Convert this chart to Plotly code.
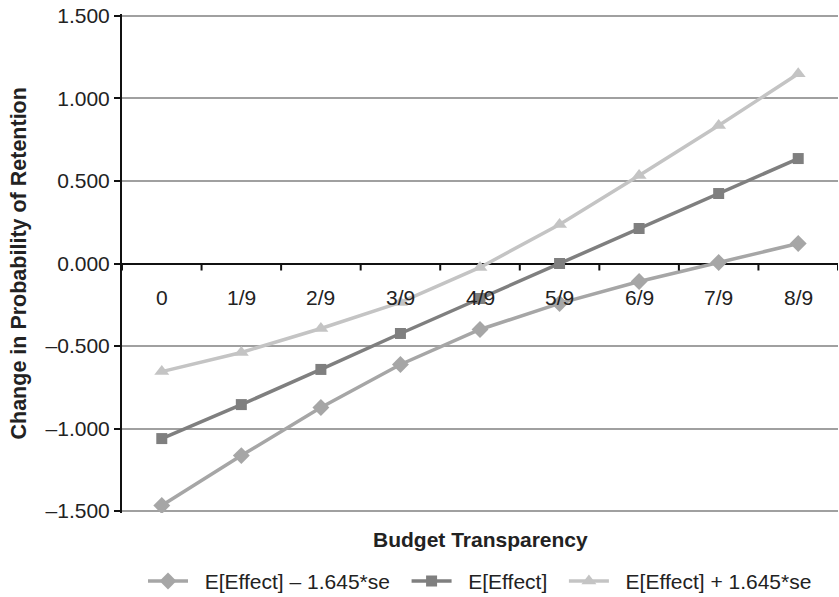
import plotly.graph_objects as go

categories = ["0", "1/9", "2/9", "3/9", "4/9", "5/9", "6/9", "7/9", "8/9"]
lower = [-1.467, -1.164, -0.873, -0.612, -0.400, -0.242, -0.109, 0.006, 0.121]
mid = [-1.061, -0.855, -0.642, -0.424, -0.212, 0.000, 0.212, 0.424, 0.636]
upper = [-0.655, -0.539, -0.394, -0.236, -0.024, 0.236, 0.533, 0.836, 1.150]
series_names = ["E[Effect] \u2013 1.645*se", "E[Effect]", "E[Effect] + 1.645*se"]
ytick_vals = [1.5, 1.0, 0.5, 0.0, -0.5, -1.0, -1.5]
ytick_text = ["1.500", "1.000", "0.500", "0.000", "\u20130.500", "\u20131.000", "\u20131.500"]

FONT = "Liberation Sans, Arial, sans-serif"
FS = 21
TXT = "#222"
PAD = "\u00a0\u00a0"
xs = list(range(len(categories)))

fig = go.Figure()
fig.add_trace(go.Scatter(x=xs, y=lower, name=PAD + series_names[0] + PAD, mode="lines+markers",
                         line=dict(color="#a6a6a6", width=3.5),
                         marker=dict(symbol="diamond", size=13, color="#a6a6a6")))
fig.add_trace(go.Scatter(x=xs, y=mid, name=PAD + series_names[1] + PAD, mode="lines+markers",
                         line=dict(color="#7f7f7f", width=3.5),
                         marker=dict(symbol="square", size=11, color="#7f7f7f")))
fig.add_trace(go.Scatter(x=xs, y=upper, name=PAD + series_names[2], mode="lines+markers",
                         line=dict(color="#c4c4c4", width=3.5),
                         marker=dict(symbol="triangle-up", size=13, color="#c4c4c4")))

annotations = []
for i, c in enumerate(categories):
    annotations.append(dict(x=i, y=0, xref="x", yref="y", text=c, showarrow=False,
                            yanchor="middle", yshift=-34, font=dict(family=FONT, size=FS, color=TXT)))
annotations.append(dict(x=0.5, y=-0.054, xref="paper", yref="paper", text="<b>Budget Transparency</b>",
                        showarrow=False, yanchor="middle", font=dict(family=FONT, size=FS, color=TXT)))
annotations.append(dict(x=0, y=0.5, xref="paper", yref="paper", xshift=-104,
                        text="<b>Change in Probability of Retention</b>", textangle=-90,
                        showarrow=False, xanchor="center", yanchor="middle",
                        font=dict(family=FONT, size=21.5, color=TXT)))

shapes = []
for k in range(len(categories) + 1):
    shapes.append(dict(type="line", xref="x", yref="y", x0=k - 0.5, x1=k - 0.5,
                       ysizemode="pixel", yanchor=0, y0=0, y1=-7,
                       line=dict(color="#111", width=2)))

fig.update_layout(
    width=839, height=597,
    margin=dict(l=122, r=1, t=14, b=84, autoexpand=False),
    paper_bgcolor="white", plot_bgcolor="white",
    font=dict(family=FONT, size=FS, color=TXT),
    showlegend=True,
    legend=dict(orientation="h", x=0.5, xanchor="center", y=-0.137, yanchor="middle",
                font=dict(family=FONT, size=FS, color=TXT), itemwidth=40),
    annotations=annotations,
    shapes=shapes,
)
fig.update_xaxes(range=[-0.5, 8.5], showgrid=False, showticklabels=False, ticks="",
                 zeroline=False, showline=False, automargin=False)
fig.update_yaxes(range=[-1.512, 1.512], tickvals=ytick_vals, ticktext=ytick_text,
                 showgrid=True, gridcolor="#a0a0a0", gridwidth=2,
                 zeroline=True, zerolinecolor="#111", zerolinewidth=2,
                 showline=True, linecolor="#111", linewidth=2,
                 ticks="outside", ticklen=6, tickwidth=2, tickcolor="#111",
                 ticklabeloverflow="allow",
                 tickfont=dict(family=FONT, size=FS, color=TXT), automargin=False)

fig.write_html("out.html", config={"displayModeBar": False},
               post_script="document.body.style.margin='0';")
